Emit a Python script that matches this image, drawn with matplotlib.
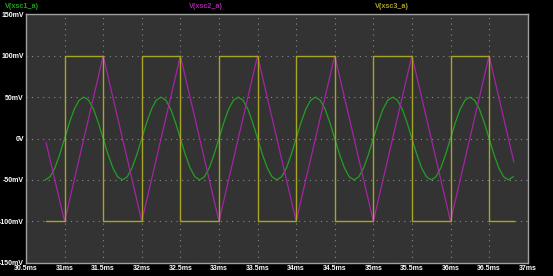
import matplotlib
matplotlib.use("Agg")
import matplotlib.pyplot as plt
from matplotlib.ticker import FuncFormatter

# ---- data (time in ms, voltage in mV) ----
# xsc1: sine, sampled every 1/16 ms starting at 30.75 ms
sine_t0 = 30.75
sine_dt = 0.0625
sine_v = [
    -50, -46.2, -35.4, -19.1, 0, 19.1, 35.4, 46.2, 50, 46.2, 35.4, 19.1, 0, -19.1, -35.4, -46.2,
    -50, -46.2, -35.4, -19.1, 0, 19.1, 35.4, 46.2, 50, 46.2, 35.4, 19.1, 0, -19.1, -35.4, -46.2,
    -50, -46.2, -35.4, -19.1, 0, 19.1, 35.4, 46.2, 50, 46.2, 35.4, 19.1, 0, -19.1, -35.4, -46.2,
    -50, -46.2, -35.4, -19.1, 0, 19.1, 35.4, 46.2, 50, 46.2, 35.4, 19.1, 0, -19.1, -35.4, -46.2,
    -50, -46.2, -35.4, -19.1, 0, 19.1, 35.4, 46.2, 50, 46.2, 35.4, 19.1, 0, -19.1, -35.4, -46.2,
    -50, -46.2, -35.4, -19.1, 0, 19.1, 35.4, 46.2, 50, 46.2, 35.4, 19.1, 0, -19.1, -35.4, -46.2,
    -50, -46.2,
]

# xsc2: triangle vertices
tri_t = [30.76, 31.0, 31.5, 32.0, 32.5, 33.0, 33.5, 34.0, 34.5, 35.0, 35.5, 36.0, 36.5, 36.82]
tri_v = [-5, -100, 100, -100, 100, -100, 100, -100, 100, -100, 100, -100, 100, -28]

# xsc3: square wave edges (value holds after each time)
sq_t = [30.76, 31.0, 31.5, 32.0, 32.5, 33.0, 33.5, 34.0, 34.5, 35.0, 35.5, 36.0, 36.5, 36.82]
sq_v = [-100, 100, -100, 100, -100, 100, -100, 100, -100, 100, -100, 100, -100, -100]

series_names = ["V(xsc1_a)", "V(xsc2_a)", "V(xsc3_a)"]
colors = ["#22a022", "#a424a4", "#a8a424"]

x_ticks = [30.5, 31, 31.5, 32, 32.5, 33, 33.5, 34, 34.5, 35, 35.5, 36, 36.5, 37]
y_ticks = [-150, -100, -50, 0, 50, 100, 150]

sine_t = [sine_t0 + i * sine_dt for i in range(len(sine_v))]

FONT = ["Liberation Sans", "DejaVu Sans"]

fig = plt.figure(figsize=(5.53, 2.76), dpi=100, facecolor="black")
ax = fig.add_axes([26 / 553, 1 - 262.7 / 276, (527.7 - 26) / 553, (262.7 - 14.3) / 276])
ax.set_facecolor("#333333")

ax.plot(sine_t, sine_v, color=colors[0], lw=0.9, zorder=3)
ax.plot(tri_t, tri_v, color=colors[1], lw=0.9, zorder=4)
ax.step(sq_t, sq_v, where="post", color=colors[2], lw=1.0, zorder=5)

ax.set_xlim(30.5, 37)
ax.set_ylim(-150, 150)
ax.set_xticks(x_ticks)
ax.set_yticks(y_ticks)

def fx(v, p):
    return ("%g" % v) + "ms"

def fy(v, p):
    if v == 0:
        return "0V"
    return "%gmV" % v

ax.xaxis.set_major_formatter(FuncFormatter(fx))
ax.yaxis.set_major_formatter(FuncFormatter(fy))
ax.tick_params(colors="white", labelsize=5, length=0)
ax.tick_params(axis="y", pad=1.5)
ax.tick_params(axis="x", pad=2)
for lab in ax.get_xticklabels() + ax.get_yticklabels():
    lab.set_family(FONT)
    lab.set_fontweight("bold")
ax.grid(True, color="#8a8a8a", linestyle=(0, (1, 4)), lw=0.8)
for s in ax.spines.values():
    s.set_color("#a0a0a0")
    s.set_linewidth(1.0)

fig.text(5 / 553, 1 - 6 / 276, series_names[0], color=colors[0], fontsize=5.2,
         va="center", ha="left", family=FONT, fontweight="bold")
fig.text(206 / 553, 1 - 6 / 276, series_names[1], color=colors[1], fontsize=5.2,
         va="center", ha="center", family=FONT, fontweight="bold")
fig.text(392 / 553, 1 - 6 / 276, series_names[2], color=colors[2], fontsize=5.2,
         va="center", ha="center", family=FONT, fontweight="bold")

fig.savefig("out.png", dpi=100, facecolor="black")
